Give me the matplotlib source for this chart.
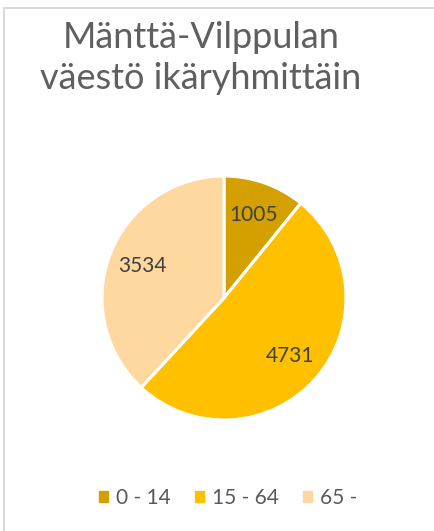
import matplotlib
matplotlib.use("Agg")
import matplotlib.pyplot as plt
from matplotlib.patches import Rectangle

categories = ["0 - 14", "15 - 64", "65 -"]
values = [1005, 4731, 3534]
colors = ["#D3A000", "#FFC000", "#FFD8A0"]
title = "Mänttä-Vilppulan\nväestö ikäryhmittäin"

plt.rcParams['font.family'] = ['Lato', 'DejaVu Sans']
W, H = 434, 531
fig = plt.figure(figsize=(W / 100, H / 100), dpi=100)

# chart border
fig.patches.append(Rectangle((4 / W, -0.1), 1.2, (H - 8) / H + 0.1,
                             transform=fig.transFigure, fill=False,
                             edgecolor="#D9D9D9", linewidth=1.5))

cx, cy, r = 224, 298, 122
ax = fig.add_axes([(cx - r) / W, (H - cy - r) / H, 2 * r / W, 2 * r / H])
wedges, texts = ax.pie(values, colors=colors, startangle=90, counterclock=False,
                       labels=[str(v) for v in values], labeldistance=0.72,
                       wedgeprops=dict(edgecolor="white", linewidth=2.2),
                       textprops=dict(color="#404040", fontsize=15))
for t in texts:
    t.set_ha("center")
    t.set_va("center")
ax.set_xlim(-1, 1)
ax.set_ylim(-1, 1)
ax.set_aspect("equal")

fig.text(201 / W, 1 - 58 / H, title, ha="center", va="center",
         fontsize=26, fontweight="normal", color="#5F5F5F", linespacing=1.3)

handles = [Rectangle((0, 0), 1, 1, color=c) for c in colors]
fig.legend(handles, categories, loc="center", bbox_to_anchor=(228 / W, 1 - 498 / H),
           ncol=3, frameon=False, fontsize=15, labelcolor="#595959",
           handlelength=0.45, handleheight=0.45, handletextpad=0.38, columnspacing=1.15)

fig.savefig("out.png", dpi=100)
